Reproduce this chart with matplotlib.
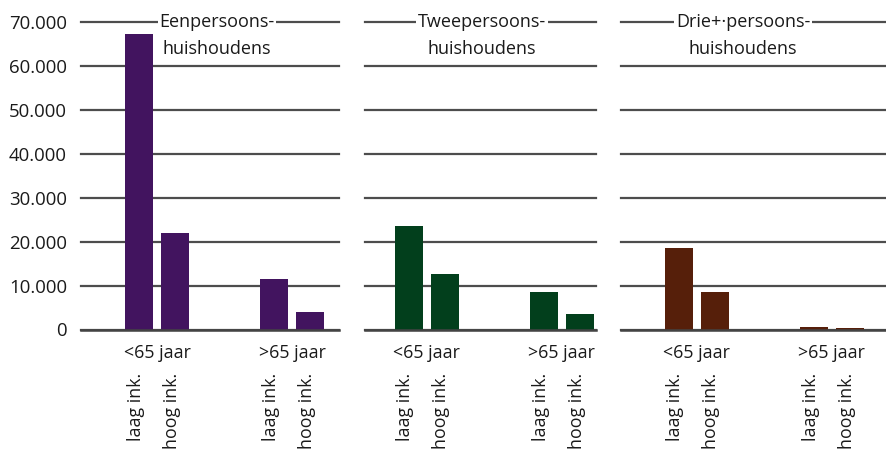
import matplotlib
matplotlib.use("Agg")
import matplotlib.pyplot as plt

plt.rcParams['font.family'] = ['Open Sans', 'DejaVu Sans']

# ---- data ----
panel_titles = [("Eenpersoons-", "huishoudens"),
                ("Tweepersoons-", "huishoudens"),
                ("Drie+·persoons-", "huishoudens")]
age_groups = ["<65 jaar", ">65 jaar"]
income_labels = ["laag ink.", "hoog ink.", "laag ink.", "hoog ink."]
een_values = [67300, 22060, 11530, 3990]
twee_values = [23650, 12700, 8590, 3570]
drie_values = [18630, 8550, 530, 300]
yticks = [0, 10000, 20000, 30000, 40000, 50000, 60000, 70000]
ytick_labels = ["0", "10.000", "20.000", "30.000", "40.000", "50.000", "60.000", "70.000"]

series = [een_values, twee_values, drie_values]
colors = ["#42145f", "#023f1c", "#561f0a"]

# ---- layout (pixels) ----
W, H = 886, 450
fig = plt.figure(figsize=(W / 100, H / 100), dpi=100)
y0_px, ytop_px = 329.5, 22.3
panels_px = [(81, 339), (365, 596), (621, 886)]
first_center_px = [58, 43.5, 57.5]
title_x_px = [217, 482, 743]
px_per_unit = 36.0
positions = [0, 1, 3.75, 4.75]
group_centers = [0.5, 4.25]
grid_color = "#4d4d4d"
text_color = "#1a1a1a"

for i, (vals, col) in enumerate(zip(series, colors)):
    x0, x1 = panels_px[i]
    ax = fig.add_axes([x0 / W, 1 - y0_px / H, (x1 - x0) / W, (y0_px - ytop_px) / H])
    left = -first_center_px[i] / px_per_unit
    right = left + (x1 - x0) / px_per_unit
    ax.set_xlim(left, right)
    ax.set_ylim(0, 70000)
    ax.bar(positions, vals, width=28 / px_per_unit, color=col, zorder=2)
    for s in ax.spines.values():
        s.set_visible(False)
    ax.set_yticks(yticks)
    ax.yaxis.grid(True, color=grid_color, linewidth=1.6)
    ax.set_axisbelow(True)
    for gl in ax.get_ygridlines():
        gl.set_clip_on(False)
    ax.axhline(0, color="#444444", linewidth=1.8, zorder=3, clip_on=False)
    ax.tick_params(axis='both', length=0)
    ax.set_xticks([])
    if i == 0:
        ax.set_yticklabels(ytick_labels, fontsize=13.4, color=text_color)
        ax.tick_params(axis='y', pad=10)
    else:
        ax.set_yticklabels([])
    # titles
    tx = (title_x_px[i] - x0) / (x1 - x0)
    ax.text(tx, 1.0, panel_titles[i][0], transform=ax.transAxes, ha='center', va='center',
            fontsize=13, color=text_color, zorder=5,
            bbox=dict(facecolor='white', edgecolor='none', pad=1.2))
    ax.text(tx, 1.0 - 27 / (y0_px - ytop_px), panel_titles[i][1], transform=ax.transAxes,
            ha='center', va='center', fontsize=13, color=text_color, zorder=5,
            bbox=dict(facecolor='white', edgecolor='none', pad=1.2))
    # group labels
    for gc, gl_txt in zip(group_centers, age_groups):
        ax.annotate(gl_txt, xy=(gc, 0), xycoords='data', xytext=(0, -23.5),
                    textcoords='offset pixels', ha='center', va='center',
                    fontsize=12.8, color=text_color, annotation_clip=False)
    # bar labels
    for p, lab in zip(positions, income_labels):
        ax.annotate(lab, xy=(p, 0), xycoords='data', xytext=(-3, -43),
                    textcoords='offset pixels', ha='center', va='top', rotation=90,
                    fontsize=12.8, color=text_color, annotation_clip=False)

fig.savefig("out.png", dpi=100, facecolor='white')
